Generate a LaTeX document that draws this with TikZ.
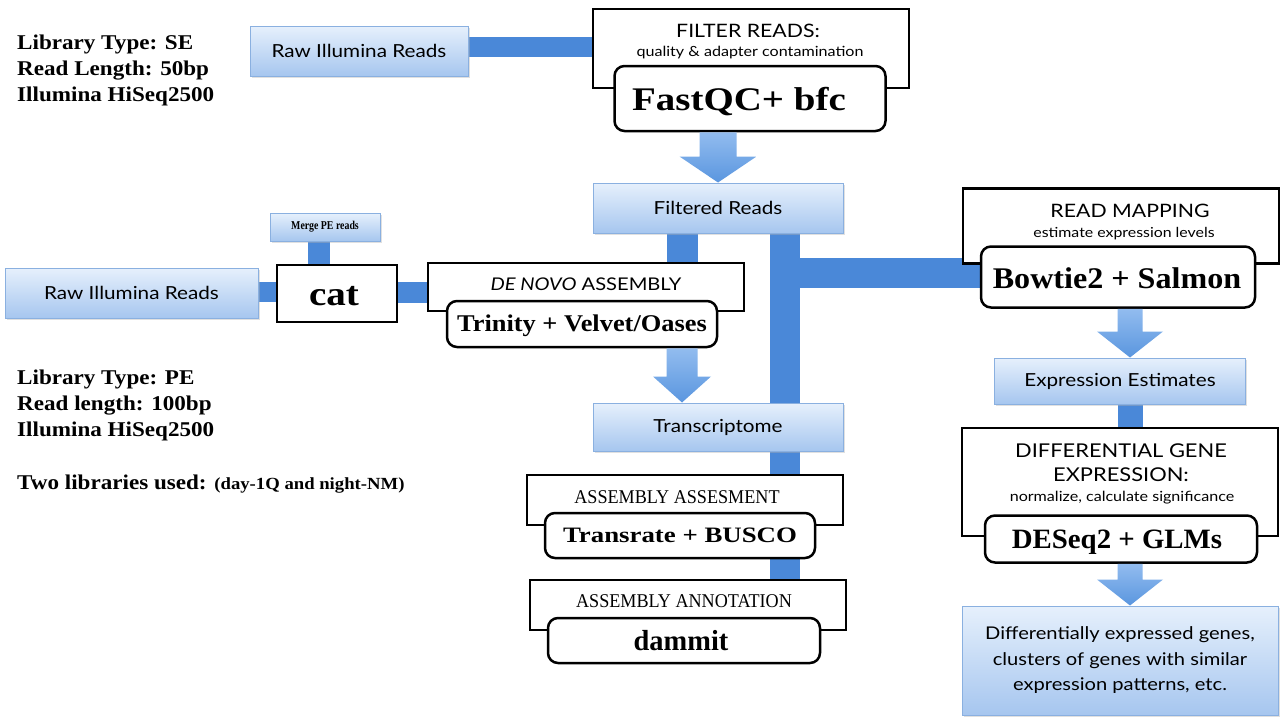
\documentclass[tikz,border=0pt]{standalone}
\usepackage{fontspec}
\setmainfont{Liberation Serif}
\newfontfamily\gill[FakeStretch=1.15]{Lato}
\newfontfamily\infofont[FakeStretch=1.1]{Liberation Serif}
\usetikzlibrary{backgrounds,calc,shadows}
\definecolor{boxtop}{HTML}{E6F0FC}
\definecolor{boxbot}{HTML}{A6C6EF}
\definecolor{boxline}{HTML}{8AB0E0}
\definecolor{barc}{HTML}{4A88D8}
\definecolor{arrtop}{HTML}{92BCEF}
\definecolor{arrbot}{HTML}{5A96DF}
\newcommand{\fsz}[1]{\fontsize{#1}{#1}\selectfont}
\newcommand{\sx}[2]{\scalebox{#1}[1]{#2}}
\newcommand{\blockarrow}[5]{%
  \path[arrowstyle] let \p1=(#2.south), \p2=(#3.north), \p3=(#1) in
    (\x3-#4pt,\y1) -- (\x3+#4pt,\y1) -- (\x3+#4pt,\y2+26pt) -- (\x3+#5pt,\y2+26pt)
    -- (\x3,\y2) -- (\x3-#5pt,\y2+26pt) -- (\x3-#4pt,\y2+26pt) -- cycle;}
\tikzset{
  bluebox/.style={rectangle, draw=boxline, line width=1pt, top color=boxtop, bottom color=boxbot,
    inner sep=0pt, align=center, font=\gill\fsz{18},
    drop shadow={shadow xshift=1.5pt, shadow yshift=-1.5pt, fill=black!30, opacity=0.4}},
  whitebox/.style={rectangle, draw=black, line width=2.5pt, fill=white, inner sep=0pt},
  toolbox/.style={whitebox, rounded corners=10pt},
  tooltext/.style={anchor=base, inner sep=0pt, font=\bfseries\fsz{#1}},
  arrowstyle/.style={top color=arrtop, bottom color=arrbot, draw=none},
  flowbar/.style={draw=barc, line width=#1},
  infotext/.style={anchor=base west, inner sep=0pt, font=\infofont\bfseries\fsz{21}},
  headsans/.style={anchor=base, inner sep=0pt, font=\gill\fsz{#1}},
  headserif/.style={anchor=base, inner sep=0pt, font=\fsz{19.5}}
}
\begin{document}
\begin{tikzpicture}[x=1pt,y=-1pt]
\useasboundingbox (0,0) rectangle (1280,720);
\begin{pgfonlayer}{background}
\fill[white] (0,0) rectangle (1280,720);
\end{pgfonlayer}

% left info texts
\node[infotext] (se1) at (17,49) {Library Type: SE};
\node[infotext] (se2) at (17,75) {Read Length: 50bp};
\node[infotext] (se3) at (17,101) {Illumina HiSeq2500};
\node[infotext] (pe1) at (17,384) {Library Type: PE};
\node[infotext] (pe2) at (17,410) {Read length: 100bp};
\node[infotext] (pe3) at (17,436) {Illumina HiSeq2500};
\node[infotext] (pe4) at (17,489) {Two libraries used: {\fsz{17}(day-1Q and night-NM)}};

% top row
\node[bluebox, minimum width=218pt, minimum height=50pt] (raw1) at (359,51) {Raw Illumina Reads};
\node[whitebox, minimum width=316pt, minimum height=79pt] (filter) at (751,48.5) {};
\node[headsans=18.5] (filtert1) at (748,37) {FILTER READS:};
\node[headsans=14] (filtert2) at (750,56) {quality \& adapter contamination};
\node[toolbox, minimum width=271pt, minimum height=65pt] (fastqc) at (750,98.5) {};
\node[tooltext=33] (fastqct) at (739,110) {\sx{1.18}{FastQC+ bfc}};

\node[bluebox, minimum width=250pt, minimum height=50pt] (filt) at (718,208) {Filtered Reads};

% read mapping branch
\node[whitebox, minimum width=316pt, minimum height=75pt] (readmap) at (1121,226) {};
\node[headsans=18.5] (readmapt1) at (1130,217) {READ MAPPING};
\node[headsans=13.8] (readmapt2) at (1124,237) {estimate expression levels};
\node[toolbox, minimum width=274pt, minimum height=61pt] (bowtie) at (1118,277) {};
\node[tooltext=30] (bowtiet) at (1117,288) {\sx{1.07}{Bowtie2 + Salmon}};
\node[bluebox, minimum width=251pt, minimum height=46pt] (expr) at (1120,381) {Expression Estimates};
\node[whitebox, minimum width=316pt, minimum height=108pt] (dge) at (1120,482) {};
\node[headsans=19] (dget1) at (1121,457) {DIFFERENTIAL GENE};
\node[headsans=19] (dget2) at (1121,481) {EXPRESSION:};
\node[headsans=14] (dget3) at (1122,501) {normalize, calculate significance};
\node[toolbox, minimum width=272pt, minimum height=47pt] (deseq) at (1121,539) {};
\node[tooltext=28] (deseqt) at (1117,548) {\sx{1.03}{DESeq2 + GLMs}};
\node[bluebox, minimum width=316pt, minimum height=109pt, font=\gill\fontsize{17.5}{25.5}\selectfont] (final) at (1120,660.5)
  {Differentially expressed genes,\\clusters of genes with similar\\expression patterns, etc.};

% PE branch
\node[bluebox, minimum width=253pt, minimum height=50pt] (raw2) at (131.5,293) {Raw Illumina Reads};
\node[bluebox, minimum width=110pt, minimum height=28pt, font=\bfseries\fsz{12}] (merge) at (325,227) {\sx{0.82}{Merge PE reads}};
\node[whitebox, minimum width=120pt, minimum height=57pt] (cat) at (337,293.5) {};
\node[tooltext=34] (catt) at (334,305) {\sx{1.15}{cat}};
\node[whitebox, minimum width=316pt, minimum height=48pt] (denovo) at (586,287) {};
\node[headsans=17.5] (denovot) at (586,290) {\textit{DE NOVO} ASSEMBLY};
\node[toolbox, minimum width=270pt, minimum height=46pt] (trinity) at (582,324) {};
\node[tooltext=24] (trinityt) at (582,331) {\sx{1.1}{Trinity + Velvet/Oases}};
\node[bluebox, minimum width=250pt, minimum height=48pt] (transc) at (718,427) {Transcriptome};

% assessment / annotation
\node[whitebox, minimum width=316pt, minimum height=50pt] (assess) at (685,500) {};
\node[headserif] (assesst) at (677,503) {\sx{0.93}{ASSEMBLY ASSESMENT}};
\node[toolbox, minimum width=270pt, minimum height=45pt] (transrate) at (680,535.5) {};
\node[tooltext=22] (transratet) at (680,542) {\sx{1.22}{Transrate + BUSCO}};
\node[whitebox, minimum width=316pt, minimum height=50pt] (annot) at (688,605) {};
\node[headserif] (annott) at (684,607) {\sx{0.93}{ASSEMBLY ANNOTATION}};
\node[toolbox, minimum width=272pt, minimum height=45pt] (dammit) at (684,640.5) {};
\node[tooltext=29] (dammitt) at (681,650) {\sx{0.98}{dammit}};

% guide coordinates for connectors
\coordinate (ax1) at (718,0);
\coordinate (ax2) at (682,0);
\coordinate (ax3) at (1130,0);
\coordinate (vx) at (785,0);
\coordinate (ty) at (0,47);
\coordinate (hy) at (785,273);
\coordinate (ly) at (0,292);
\coordinate (mx) at (319,0);

% block arrows
\blockarrow{ax1}{fastqc}{filt}{18.5}{38.5}
\blockarrow{ax2}{trinity}{transc}{15.5}{29}
\blockarrow{ax3}{bowtie}{expr}{12.5}{33}
\blockarrow{ax3}{deseq}{final}{12.5}{33}

% bars
\begin{pgfonlayer}{background}
\draw[flowbar=20pt] (raw1.east |- ty) -- (filter.west |- ty);
\draw[flowbar=31pt] (filt.south -| ax2) -- (denovo.north -| ax2);
\draw[flowbar=30pt] (filt.south -| vx) -- (annot.north -| vx);
\draw[flowbar=30pt] (hy) -- (hy -| bowtie.west);
\draw[flowbar=25pt] (expr.south -| ax3) -- (dge.north -| ax3);
\draw[flowbar=20pt] (raw2.east |- ly) -- (cat.west |- ly);
\draw[flowbar=22pt] (merge.south -| mx) -- (cat.north -| mx);
\draw[flowbar=21pt] (cat.east |- ly) -- (denovo.west |- ly);
\end{pgfonlayer}
\end{tikzpicture}
\end{document}
